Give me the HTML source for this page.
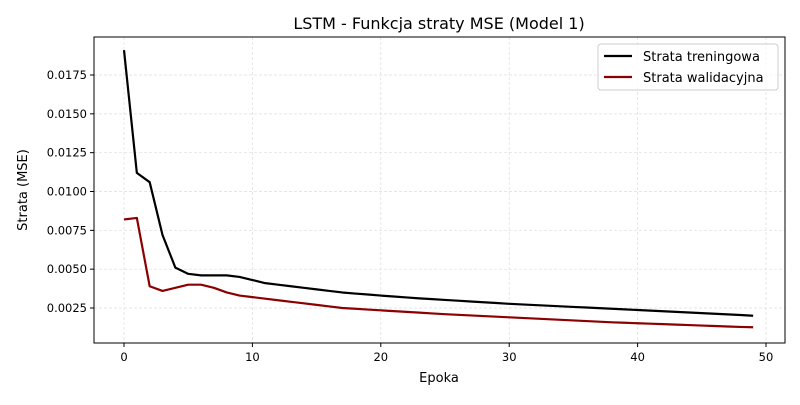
<!DOCTYPE html>
<html><head><meta charset="utf-8"><style>
body{margin:0;background:#fff;font-family:"Liberation Sans","DejaVu Sans",sans-serif}
svg text{font-family:"DejaVu Sans","Liberation Sans",sans-serif}
</style></head><body>
<svg id="chart" width="800" height="400" xmlns="http://www.w3.org/2000/svg">
<rect width="800" height="400" fill="#fff"/>
<g id="grid"></g><g id="axes"></g><g id="series"></g>
<rect x="94" y="37" width="691" height="306" fill="none" stroke="#000" stroke-width="1"/>
<text x="439" y="29" font-size="16" text-anchor="middle">LSTM - Funkcja straty MSE (Model 1)</text>
<text x="439" y="382" font-size="13" text-anchor="middle">Epoka</text>
<text transform="translate(27,190) rotate(-90)" font-size="13" text-anchor="middle">Strata (MSE)</text>
<g>
<rect x="598" y="44" width="180" height="46" rx="3" fill="#fff" fill-opacity="0.8" stroke="#ccc"/>
<g><line x1="604" y1="56" x2="632" y2="56" stroke="#000" stroke-width="2.2"/><text x="643" y="61" font-size="13">Strata treningowa</text></g>
<g><line x1="604" y1="77" x2="632" y2="77" stroke="#8b0000" stroke-width="2.2"/><text x="643" y="82" font-size="13">Strata walidacyjna</text></g>
</g>
</svg>
<script>
const epochs=[...Array(50).keys()];
const trainLoss=[0.0191,0.0112,0.0106,0.0072,0.0051,0.0047,0.0046,0.0046,0.0046,0.0045,0.0043,0.0041,0.0040,0.0039,0.0038,0.0037,0.0036,0.0035,0.00343,0.00337,0.0033,0.00324,0.00318,0.00312,0.00307,0.00302,0.00297,0.00292,0.00287,0.00282,0.00277,0.00273,0.00269,0.00265,0.00261,0.00257,0.00253,0.00249,0.00245,0.00241,0.00237,0.00233,0.00229,0.00225,0.00221,0.00217,0.00213,0.00209,0.00205,0.002];
const valLoss=[0.0082,0.0083,0.0039,0.0036,0.0038,0.0040,0.0040,0.0038,0.0035,0.0033,0.0032,0.0031,0.0030,0.0029,0.0028,0.0027,0.0026,0.0025,0.00245,0.0024,0.00235,0.0023,0.00225,0.0022,0.00215,0.0021,0.00206,0.00202,0.00198,0.00194,0.0019,0.00186,0.00182,0.00178,0.00174,0.0017,0.00166,0.00162,0.00158,0.00155,0.00152,0.00149,0.00146,0.00143,0.0014,0.00137,0.00134,0.00131,0.00128,0.00126];
const xTicks=[0,10,20,30,40,50];
const yTicks=[0.0025,0.005,0.0075,0.01,0.0125,0.015,0.0175];
const X=v=>124+v*12.84;
const Y=v=>308-(v-0.0025)*15533;
const NS="http://www.w3.org/2000/svg";
function mk(t,a,p){const e=document.createElementNS(NS,t);for(const k in a)e.setAttribute(k,a[k]);p.appendChild(e);return e;}
const grid=document.getElementById('grid'),axes=document.getElementById('axes'),ser=document.getElementById('series');
xTicks.forEach(t=>{const x=X(t);
const g=mk('line',{x1:x,x2:x,y1:37,y2:343,stroke:'#ddd','stroke-dasharray':'3,2','stroke-width':0.7},grid);


mk('line',{x1:x,x2:x,y1:343,y2:347,stroke:'#000'},axes);
const tx=mk('text',{x:x,y:361,'font-size':11.5,'text-anchor':'middle'},axes);tx.textContent=t;

});
yTicks.forEach(t=>{const y=Y(t);
const g=mk('line',{x1:94,x2:785,y1:y,y2:y,stroke:'#ddd','stroke-dasharray':'3,2','stroke-width':0.7},grid);


mk('line',{x1:90,x2:94,y1:y,y2:y,stroke:'#000'},axes);
const tx=mk('text',{x:87,y:y+4,'font-size':11.5,'text-anchor':'end'},axes);tx.textContent=t.toFixed(4);

});
function line(d,c,n){const p=mk('polyline',{points:epochs.map(i=>X(i)+','+Y(d[i])).join(' '),fill:'none',stroke:c,'stroke-width':2.2,'stroke-linejoin':'round'},ser);

}
line(trainLoss,'#000','train-loss-line');
line(valLoss,'#8b0000','val-loss-line');
</script>
</body></html>
